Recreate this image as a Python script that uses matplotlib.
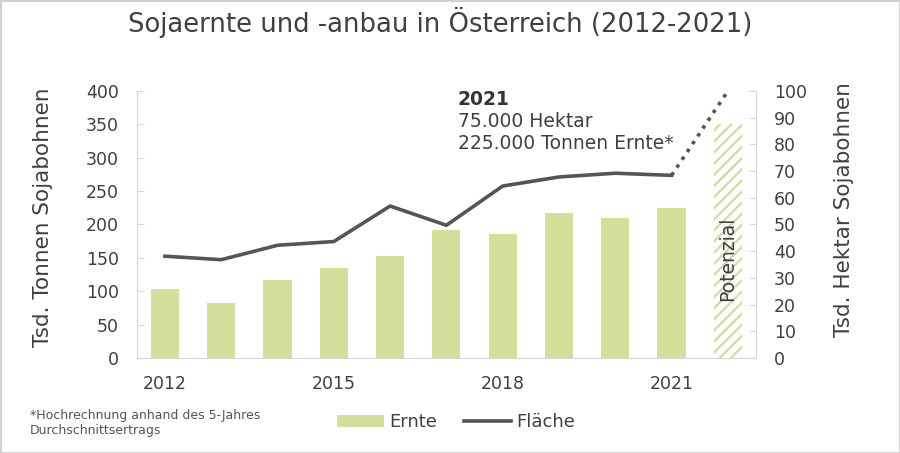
import numpy as np
import matplotlib
matplotlib.use("Agg")
import matplotlib.pyplot as plt
from matplotlib.patches import Patch
from matplotlib.lines import Line2D

plt.rcParams['font.family'] = ['DejaVu Sans']
plt.rcParams['hatch.linewidth'] = 1.6

# data
years = [2012, 2013, 2014, 2015, 2016, 2017, 2018, 2019, 2020, 2021]
ernte = [103, 82, 117, 135, 152, 192, 186, 217, 209, 225]      # Tsd. Tonnen
flaeche = [38.1, 36.8, 42.2, 43.6, 56.9, 49.7, 64.4, 67.8, 69.2, 68.4]  # Tsd. Hektar
potenzial_ernte = 350
potenzial_flaeche = 100
xtick_years = [2012, 2015, 2018, 2021]

bar_col = '#d3df9b'
line_col = '#555555'
txt_col = '#404040'
spine_col = '#d9d9d9'

fig = plt.figure(figsize=(9, 4.53), dpi=100)
fig.patch.set_edgecolor('#d0d0d0')
fig.patch.set_linewidth(2)
ax = fig.add_axes([0.152, 0.21, 0.688, 0.589])
ax2 = ax.twinx()

x = np.arange(len(years))
x_pot = len(years)

ax.bar(x, ernte, width=0.5, color=bar_col, zorder=2)
ax.bar(x_pot, potenzial_ernte, width=0.5, color='white', edgecolor='#cddf9c',
       hatch='///', linewidth=0, zorder=2)
ax.text(x_pot, 148, 'Potenzial', rotation=90, ha='center', va='center',
        fontsize=13.5, color=txt_col, zorder=3)

ax2.plot(x, flaeche, color=line_col, lw=2.6, zorder=4)
ax2.plot([x[-1], x_pot], [flaeche[-1], potenzial_flaeche], color=line_col,
         lw=2.6, ls=(0, (1, 1.6)), zorder=4)

ax.set_xlim(-0.5, x_pot + 0.5)
ax.set_ylim(0, 400)
ax2.set_ylim(0, 100)
ax.set_yticks(range(0, 401, 50))
ax2.set_yticks(range(0, 101, 10))
ax.set_xticks([years.index(y) for y in xtick_years])
ax.set_xticklabels([str(y) for y in xtick_years])

for a in (ax, ax2):
    for s in a.spines.values():
        s.set_color(spine_col)
    a.spines['top'].set_visible(False)
ax.tick_params(axis='y', direction='in', length=5, color=spine_col,
               labelsize=12.5, labelcolor=txt_col, pad=13)
ax2.tick_params(axis='y', direction='in', length=5, color=spine_col,
                labelsize=12.5, labelcolor=txt_col, pad=13)
ax.tick_params(axis='x', length=0, labelsize=12.5, labelcolor=txt_col, pad=12)

ax.set_ylabel('Tsd. Tonnen Sojabohnen', fontsize=15.5, color=txt_col)
ax2.set_ylabel('Tsd. Hektar Sojabohnen', fontsize=15.5, color=txt_col)
ax.yaxis.set_label_coords(-0.136, 0.528)
ax2.yaxis.set_label_coords(1.126, 0.554)

fig.text(0.489, 0.95, 'Sojaernte und -anbau in Österreich (2012-2021)',
         ha='center', va='center', fontsize=18.6, color=txt_col)

# annotation for 2021
ax.text(5.2, 401, '2021', fontsize=13.5, fontweight='bold', color='#333333',
        va='top', ha='left')
ax.text(5.2, 369, '75.000 Hektar\n225.000 Tonnen Ernte*', fontsize=13.5,
        color=txt_col, va='top', ha='left', linespacing=1.2)

fig.text(0.033, 0.066, '*Hochrechnung anhand des 5-Jahres\nDurchschnittsertrags',
         fontsize=9, color='#555555', va='center', ha='left', linespacing=1.15)

handles = [Patch(facecolor=bar_col, edgecolor='none'),
           Line2D([], [], color=line_col, lw=2.6)]
fig.legend(handles, ['Ernte', 'Fläche'], loc='center', bbox_to_anchor=(0.507, 0.068),
           ncol=2, frameon=False, fontsize=13, labelcolor=txt_col,
           handlelength=2.6, handletextpad=0.3, columnspacing=1.5)

fig.savefig('out.png', dpi=100)
